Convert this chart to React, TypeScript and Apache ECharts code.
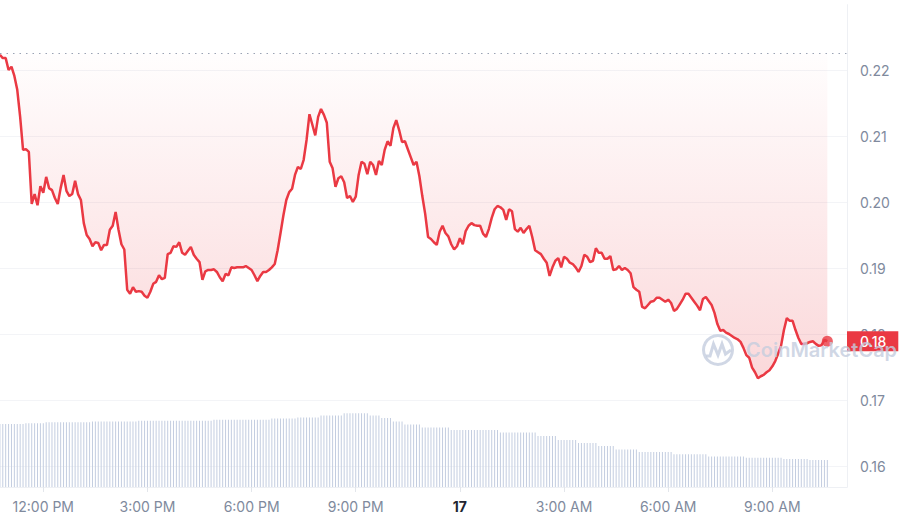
import React, { useEffect, useRef } from 'react';
import * as echarts from 'echarts';

// Hours relative to 12:00 PM of the first day; 5-minute samples from 10:45 AM
const START_HOUR = -1.25;
const STEP_HOURS = 5 / 60;
const OPEN_PRICE = 0.2226;

const PRICES = [
  0.2223, 0.2218, 0.2218, 0.2200, 0.2205, 0.2191, 0.2170, 0.2129, 0.2079, 0.2080,
  0.2076, 0.1997, 0.2012, 0.1995, 0.2024, 0.2014, 0.2038, 0.2021, 0.2018, 0.2006,
  0.1997, 0.2021, 0.2041, 0.2017, 0.2009, 0.2012, 0.2032, 0.2012, 0.2003, 0.1968,
  0.1950, 0.1944, 0.1933, 0.1939, 0.1938, 0.1927, 0.1935, 0.1935, 0.1958, 0.1964,
  0.1985, 0.1958, 0.1936, 0.1928, 0.1867, 0.1861, 0.1871, 0.1864, 0.1865, 0.1864,
  0.1858, 0.1855, 0.1864, 0.1876, 0.1879, 0.1889, 0.1883, 0.1885, 0.1921, 0.1923,
  0.1933, 0.1932, 0.1939, 0.1923, 0.1920, 0.1926, 0.1932, 0.1920, 0.1914, 0.1909,
  0.1882, 0.1895, 0.1897, 0.1897, 0.1898, 0.1894, 0.1886, 0.1880, 0.1891, 0.1889,
  0.1901, 0.1900, 0.1901, 0.1901, 0.1901, 0.1903, 0.1900, 0.1897, 0.1889, 0.1880,
  0.1888, 0.1894, 0.1894, 0.1897, 0.1901, 0.1906, 0.1927, 0.1953, 0.1980, 0.2003,
  0.2015, 0.2020, 0.2041, 0.2053, 0.2050, 0.2064, 0.2094, 0.2133, 0.2117, 0.2101,
  0.2129, 0.2141, 0.2132, 0.2120, 0.2061, 0.2051, 0.2023, 0.2036, 0.2039, 0.2030,
  0.2006, 0.2009, 0.2000, 0.2008, 0.2041, 0.2061, 0.2058, 0.2042, 0.2061, 0.2056,
  0.2041, 0.2062, 0.2056, 0.2079, 0.2092, 0.2085, 0.2112, 0.2124, 0.2109, 0.2091,
  0.2092, 0.2080, 0.2068, 0.2056, 0.2061, 0.2039, 0.2009, 0.1982, 0.1947, 0.1944,
  0.1939, 0.1935, 0.1955, 0.1964, 0.1953, 0.1948, 0.1936, 0.1928, 0.1933, 0.1945,
  0.1936, 0.1956, 0.1964, 0.1968, 0.1965, 0.1964, 0.1964, 0.1952, 0.1947, 0.1959,
  0.1976, 0.1989, 0.1994, 0.1992, 0.1988, 0.1973, 0.1989, 0.1986, 0.1959, 0.1955,
  0.1961, 0.1953, 0.1959, 0.1964, 0.1947, 0.1927, 0.1924, 0.1921, 0.1914, 0.1908,
  0.1888, 0.1901, 0.1911, 0.1915, 0.1901, 0.1917, 0.1914, 0.1908, 0.1906, 0.1901,
  0.1894, 0.1903, 0.1920, 0.1917, 0.1909, 0.1911, 0.1930, 0.1923, 0.1923, 0.1914,
  0.1914, 0.1918, 0.1897, 0.1898, 0.1903, 0.1897, 0.1900, 0.1897, 0.1892, 0.1871,
  0.1867, 0.1864, 0.1841, 0.1839, 0.1844, 0.1849, 0.1850, 0.1855, 0.1855, 0.1852,
  0.1849, 0.1852, 0.1847, 0.1835, 0.1838, 0.1845, 0.1852, 0.1861, 0.1861, 0.1855,
  0.1849, 0.1843, 0.1836, 0.1853, 0.1856, 0.1850, 0.1844, 0.1832, 0.1815, 0.1805,
  0.1806, 0.1802, 0.1800, 0.1797, 0.1794, 0.1792, 0.1788, 0.1779, 0.1768, 0.1764,
  0.1749, 0.1742, 0.1733, 0.1736, 0.1738, 0.1742, 0.1745, 0.1751, 0.1759, 0.1770,
  0.1782, 0.1806, 0.1824, 0.1820, 0.1820, 0.1806, 0.1794, 0.1785, 0.1785, 0.1786,
  0.1788, 0.1789, 0.1785, 0.1782, 0.1783, 0.1791, 0.1789,
];

// 24h volume (millions), one bar per 5-minute sample
const VOLUMES = [
  6.30, 6.30, 6.30, 6.30, 6.30, 6.30, 6.30, 6.30, 6.30, 6.37,
  6.37, 6.37, 6.37, 6.37, 6.37, 6.37, 6.47, 6.47, 6.47, 6.47,
  6.47, 6.47, 6.47, 6.47, 6.47, 6.47, 6.47, 6.47, 6.47, 6.47,
  6.47, 6.47, 6.55, 6.55, 6.55, 6.55, 6.55, 6.55, 6.55, 6.55,
  6.55, 6.55, 6.55, 6.55, 6.55, 6.55, 6.55, 6.55, 6.62, 6.62,
  6.62, 6.62, 6.62, 6.62, 6.62, 6.62, 6.62, 6.62, 6.62, 6.62,
  6.62, 6.62, 6.62, 6.62, 6.62, 6.62, 6.62, 6.62, 6.62, 6.62,
  6.62, 6.62, 6.62, 6.62, 6.72, 6.72, 6.72, 6.72, 6.72, 6.72,
  6.72, 6.72, 6.72, 6.72, 6.72, 6.72, 6.72, 6.72, 6.72, 6.72,
  6.72, 6.72, 6.72, 6.72, 6.85, 6.85, 6.85, 6.85, 6.85, 6.85,
  6.85, 6.85, 6.85, 6.95, 6.95, 6.95, 6.95, 6.95, 6.95, 6.95,
  6.95, 7.15, 7.15, 7.15, 7.15, 7.15, 7.15, 7.15, 7.15, 7.38,
  7.38, 7.38, 7.38, 7.38, 7.38, 7.38, 7.38, 7.38, 7.15, 7.15,
  7.15, 7.15, 6.90, 6.90, 6.90, 6.90, 6.55, 6.55, 6.55, 6.55,
  6.25, 6.25, 6.25, 6.25, 6.25, 6.25, 5.95, 5.95, 5.95, 5.95,
  5.95, 5.95, 5.95, 5.95, 5.95, 5.95, 5.70, 5.70, 5.70, 5.70,
  5.70, 5.70, 5.70, 5.70, 5.70, 5.70, 5.70, 5.70, 5.70, 5.70,
  5.70, 5.70, 5.70, 5.45, 5.45, 5.45, 5.45, 5.45, 5.45, 5.45,
  5.45, 5.45, 5.45, 5.45, 5.45, 5.45, 5.10, 5.10, 5.10, 5.10,
  5.10, 5.10, 5.10, 4.70, 4.70, 4.70, 4.70, 4.70, 4.70, 4.70,
  4.40, 4.40, 4.40, 4.40, 4.40, 4.40, 4.40, 4.10, 4.10, 4.10,
  4.10, 4.10, 4.10, 3.75, 3.75, 3.75, 3.75, 3.75, 3.75, 3.75,
  3.75, 3.50, 3.50, 3.50, 3.50, 3.50, 3.50, 3.50, 3.50, 3.50,
  3.50, 3.50, 3.50, 3.27, 3.27, 3.27, 3.27, 3.27, 3.27, 3.27,
  3.27, 3.27, 3.27, 3.27, 3.27, 3.05, 3.05, 3.05, 3.05, 3.05,
  3.05, 3.05, 3.05, 3.05, 3.05, 3.05, 3.05, 3.05, 2.93, 2.93,
  2.93, 2.93, 2.93, 2.93, 2.93, 2.93, 2.93, 2.93, 2.93, 2.93,
  2.93, 2.80, 2.80, 2.80, 2.80, 2.80, 2.80, 2.80, 2.80, 2.80,
  2.70, 2.70, 2.70, 2.70, 2.70, 2.70, 2.70,
];

const X_MIN_HOUR = -1.247;
const X_MAX_HOUR = 23.15;
const X_TICK_HOURS = [0, 3, 6, 9, 12, 15, 18, 21];
const X_TICK_LABELS = ['12:00 PM', '3:00 PM', '6:00 PM', '9:00 PM', '17', '3:00 AM', '6:00 AM', '9:00 AM'];
const DAY_LABEL = '17';
const Y_TICKS = [0.16, 0.17, 0.18, 0.19, 0.2, 0.21, 0.22];

const RED = '#ea3943';
const LABEL_GRAY = '#808a9d';
const WATERMARK = 'rgba(196,205,222,0.8)';

export default function App() {
  const ref = useRef<HTMLDivElement>(null);

  useEffect(() => {
    if (!ref.current) return;
    const chart = echarts.init(ref.current, undefined, { renderer: 'svg' });

    const priceData = PRICES.map((p, i) => [START_HOUR + i * STEP_HOURS, p]);
    const volData = VOLUMES.map((v, i) => [START_HOUR + i * STEP_HOURS, v]);
    const last = priceData[priceData.length - 1];

    const option: any = {
      animation: false,
      grid: { left: 0, right: 57, top: 4.66, bottom: 35, containLabel: false },
      xAxis: {
        type: 'value',
        min: X_MIN_HOUR,
        max: X_MAX_HOUR,
        axisLine: { show: true, onZero: false, lineStyle: { color: '#eef0f4', width: 1 } },
        axisTick: { show: true, length: 5, customValues: X_TICK_HOURS, lineStyle: { color: '#e3e6eb' } },
        splitLine: { show: false },
        axisLabel: {
          color: LABEL_GRAY,
          fontSize: 14,
          fontFamily: 'Inter',
          margin: 12,
          customValues: X_TICK_HOURS,
          formatter: (v: number) => {
            const idx = X_TICK_HOURS.findIndex((h) => Math.abs(h - v) < 1e-6);
            if (idx < 0) return '';
            const label = X_TICK_LABELS[idx];
            return label === DAY_LABEL ? '{b|' + label + '}' : label;
          },
          rich: {
            b: { fontSize: 14, fontFamily: 'Inter', fontWeight: 'bold', color: '#222531' },
          },
        },
      },
      yAxis: [
        {
          type: 'value',
          position: 'right',
          min: 0.1568182,
          max: 0.2299,
          minInterval: 0.01,
          maxInterval: 0.01,
          axisLine: { show: true, onZero: false, lineStyle: { color: '#eef0f4' } },
          axisTick: { show: false },
          splitLine: {
            show: true,
            showMinLine: false,
            showMaxLine: false,
            lineStyle: { color: '#f3f4f7' },
          },
          axisLabel: {
            color: LABEL_GRAY,
            fontSize: 14,
            fontFamily: 'Inter',
            margin: 13,
            showMinLabel: false,
            showMaxLabel: false,
            formatter: (v: number) => {
              const hit = Y_TICKS.find((t) => Math.abs(t - v) < 1e-7);
              return hit !== undefined ? hit.toFixed(2) : '';
            },
          },
        },
        { type: 'value', min: 0, max: 48.234, show: false, axisLine: { onZero: false } },
      ],
      series: [
        {
          type: 'bar',
          yAxisIndex: 1,
          data: volData,
          barWidth: 1,
          silent: true,
          z: 1,
          itemStyle: { color: '#c3cde0' },
        },
        {
          type: 'line',
          data: priceData,
          showSymbol: false,
          silent: true,
          z: 3,
          lineStyle: { color: RED, width: 2.5 },
          areaStyle: {
            origin: OPEN_PRICE,
            color: new echarts.graphic.LinearGradient(0, 0, 0, 1, [
              { offset: 0, color: 'rgba(234,57,67,0.01)' },
              { offset: 1, color: 'rgba(234,57,67,0.28)' },
            ]),
          },
          markLine: {
            silent: true,
            precision: 4,
            symbol: ['none', 'none'],
            data: [
              {
                yAxis: OPEN_PRICE,
                lineStyle: { color: '#9aa3b4', type: [1.5, 5], width: 1 },
                label: { show: false },
              },
              {
                yAxis: last[1],
                lineStyle: { color: 'rgba(0,0,0,0)', width: 0 },
                label: {
                  show: true,
                  position: 'end',
                  distance: 0,
                  formatter: (last[1] as number).toFixed(2),
                  backgroundColor: RED,
                  color: '#ffffff',
                  fontSize: 14,
                  fontFamily: 'Inter',
                  fontWeight: 500,
                  padding: [3, 12, 3, 13],
                },
              },
            ],
          },
        },
        {
          type: 'scatter',
          data: [last],
          symbolSize: 11,
          silent: true,
          z: 4,
          itemStyle: { color: RED },
        },
      ],
      graphic: [
        {
          type: 'ring',
          z: 100,
          shape: { cx: 718, cy: 350, r: 16, r0: 13 },
          style: { fill: WATERMARK },
        },
        {
          type: 'polyline',
          z: 100,
          shape: { points: [[706, 356], [710, 356], [713.5, 344], [718, 355], [722, 344], [725.5, 354], [731, 350]] },
          style: { stroke: WATERMARK, lineWidth: 3, fill: null },
        },
        {
          type: 'text',
          z: 100,
          x: 746,
          y: 350,
          style: {
            text: 'CoinMarketCap',
            fontSize: 20,
            fontWeight: 600,
            fontFamily: 'Inter',
            fill: WATERMARK,
            verticalAlign: 'middle',
          },
        },
      ],
    };

    chart.setOption(option);
    return () => chart.dispose();
  }, []);

  return (
    <div
      ref={ref}
      style={{ position: 'absolute', left: 0, top: 0, width: 904, height: 522, background: '#ffffff' }}
    />
  );
}
